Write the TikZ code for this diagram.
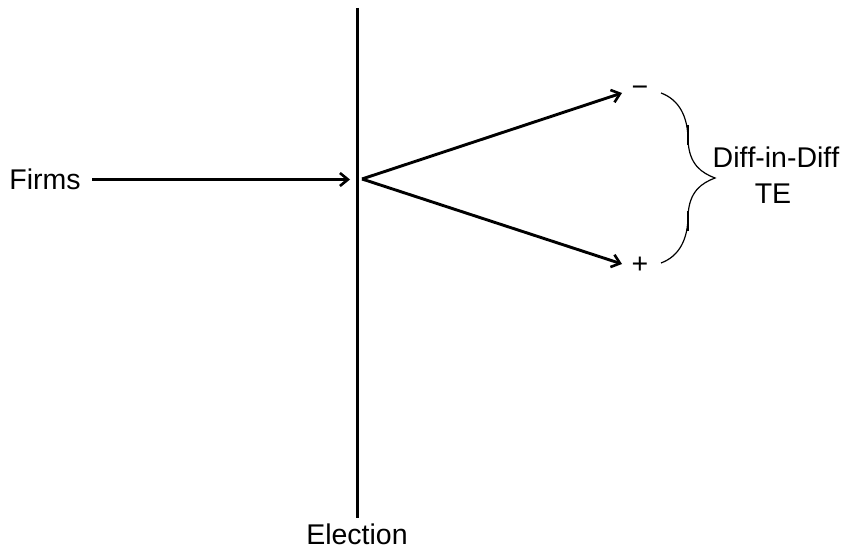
\documentclass[tikz,border=0pt]{standalone}
\usepackage{fontspec}
\setmainfont{Liberation Sans}[Ligatures={NoCommon}]
\usetikzlibrary{arrows.meta}
\begin{document}
\begin{tikzpicture}[x=1pt,y=-1pt,
  lbl/.style={inner sep=0pt,font=\fontsize{28.5}{34}\selectfont},
  conn/.style={line width=2.9pt,-{Straight Barb[length=8pt,width=13pt,line width=2.6pt]}},
  axis/.style={line width=3pt},
  brace/.style={line width=1.2pt}]
\useasboundingbox (0,0) rectangle (844,553);
\coordinate (top) at (357.5,8);
\coordinate (bot) at (357.5,518);
\draw[axis] (top) -- (bot);
\node[lbl] (firms) at (45,179) {Firms};
\node[lbl] (election) at (357,534) {Election};
\coordinate (fa) at (350,179.5);
\coordinate (hub) at (362,179);
\coordinate (tipT) at (622,93);
\coordinate (tipB) at (622,264);
\node[lbl] (minus) at (640,91) {−};
\node[lbl] (plus) at (640,265) {+};
\draw[conn] (92,179.5) -- (fa);
\draw[conn] (hub) -- (tipT);
\draw[conn] (hub) -- (tipB);
\coordinate (bt) at (661,93);
\coordinate (bb) at (661,263);
\coordinate (btip) at (715,178);
\draw[brace] (bt) .. controls (680,100) and (688,118) .. (688,140)
  .. controls (689,165) and (702,173) .. (btip)
  .. controls (702,183) and (689,191) .. (688,216)
  .. controls (688,238) and (680,256) .. (bb);
\draw[line width=2.4pt] (688,125) -- (688,145);
\draw[line width=2.4pt] (688,211) -- (688,231);
\node[lbl] (did) at (776,157) {Dif\kern0ptf-in-Dif\kern0ptf};
\node[lbl] (te) at (773,194) {TE};
\end{tikzpicture}
\end{document}
